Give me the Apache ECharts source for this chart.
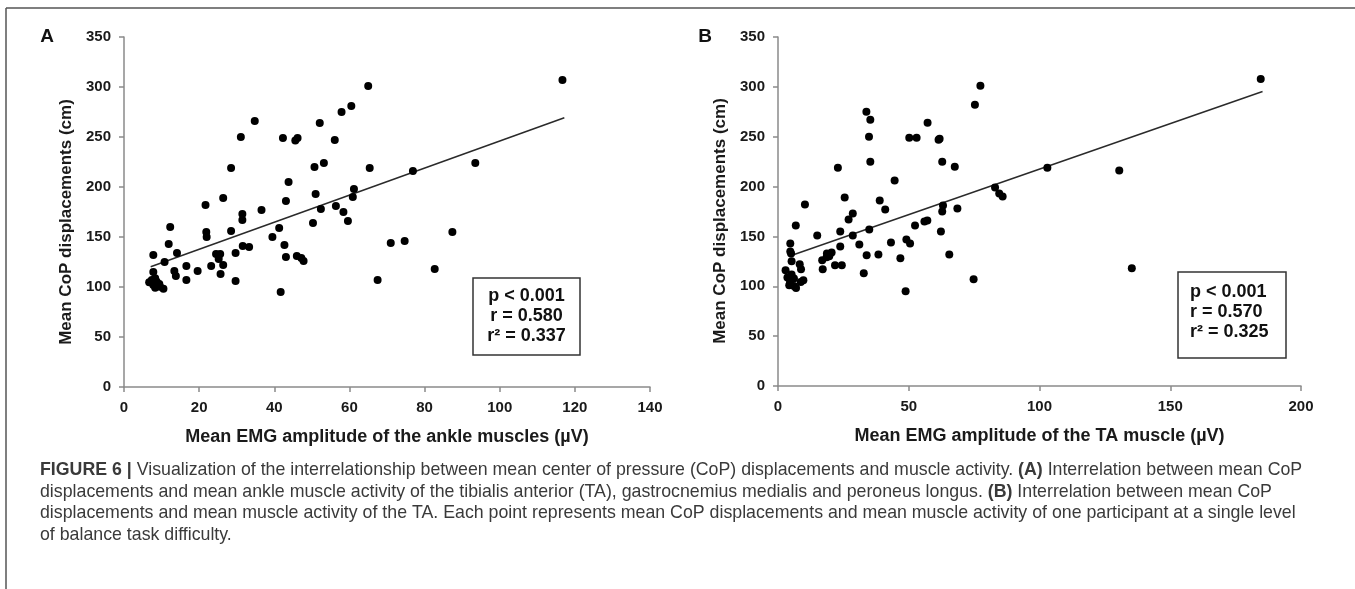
<!DOCTYPE html>
<html>
<head>
<meta charset="utf-8">
<script src="https://cdn.jsdelivr.net/npm/echarts@6/dist/echarts.min.js"></script>
<style>
html,body{margin:0;padding:0;background:#fff;}
#chart{width:1355px;height:589px;}
</style>
</head>
<body>
<div id="chart"></div>
<script>
// ---------- Panel A: mean EMG of ankle muscles vs mean CoP displacement ----------
var emgA = [65.0,60.5,57.9,52.1,34.8,31.1,42.3,45.6,46.2,56.1,28.5,50.7,53.2,65.4,43.8,26.4,21.7,61.2,60.9,51.0,
            43.1,36.6,31.5,31.5,56.4,52.4,58.4,59.6,50.3,12.3,21.9,22.0,28.5,41.3,39.5,11.9,42.7,31.6,33.3,7.8,
            14.1,29.7,24.5,25.6,25.2,26.4,10.8,43.1,46.0,47.2,47.8,16.6,23.2,19.6,13.4,13.8,7.8,25.7,16.6,29.7,
            41.7,6.7,7.4,8.3,8.7,7.8,9.4,8.3,10.5,9.6,116.7,76.9,93.5,71.0,74.7,87.4,82.7,67.5];
var copA = [301,281,275,264,266,250,249,246.5,249,247,219,220,224,219,205,189,182,198,190,193,
            186,177,173,167,181,178,175,166,164,160,155,150,156,159,150,143,142,141,140,132,
            134,134,133,133,128,122,125,130,131,129,126,121,121,116,116,111,115,113,107,106,
            95,104.7,107,108.7,105.3,102,103,99.3,98.3,100.3,307,216,224,144,146,155,118,107];
var trendA = [[7.1,120.3],[117.2,269.3]];
var statsA = ['p < 0.001','r = 0.580','r² = 0.337'];

// ---------- Panel B: mean EMG of TA vs mean CoP displacement ----------
var emgB = [77.4,75.3,33.8,35.3,34.8,57.2,50.2,53.0,61.4,61.8,35.3,62.8,67.6,22.9,44.6,25.5,38.9,41.0,10.3,28.6,
            27.0,63.1,62.8,68.6,83.0,84.6,85.9,56.0,57.1,52.4,34.9,23.8,28.6,15.0,62.3,6.8,4.7,31.1,43.2,49.1,
            50.5,23.8,4.7,5.0,18.7,20.5,19.6,18.6,16.9,33.9,38.4,46.8,65.5,5.2,8.3,8.8,17.1,21.8,24.4,32.8,
            2.9,3.6,5.2,6.1,4.6,6.1,4.3,6.9,8.7,9.7,48.8,74.8,184.6,103.0,130.5,135.3];
var copB = [301,282,275,267,250,264,249,249,247,248,225,225,220,219,206,189,186,177,182,173,
            167,181,175,178,199,193,190,165,166,161,157,155,151,151,155,161,143,142,144,147,
            143,140,135,133,133,134,130,129,126,131,132,128,132,125,122,117,117,121,121,113,
            116,108.7,111.7,107.7,104.3,100.3,101,98.3,104.3,106,95,107,308,219,216,118];
var trendB = [[5.9,131.7],[185.3,295.3]];
var statsB = ['p < 0.001','r = 0.570','r² = 0.325'];

// ---------- Axis ticks / labels ----------
var yMin = 0, yMax = 350, yStep = 50;
var xA = {min:0, max:140, step:20};
var xB = {min:0, max:200, step:50};
var yTitle = 'Mean CoP displacements (cm)';
var xTitleA = 'Mean EMG amplitude of the ankle muscles (µV)';
var xTitleB = 'Mean EMG amplitude of the TA muscle (µV)';
var panelLabels = ['A','B'];
var captionLines = [
  [['b','FIGURE 6 | '],['n','Visualization of the interrelationship between mean center of pressure (CoP) displacements and muscle activity. '],['b','(A)'],['n',' Interrelation between mean CoP']],
  [['n','displacements and mean ankle muscle activity of the tibialis anterior (TA), gastrocnemius medialis and peroneus longus. '],['b','(B)'],['n',' Interrelation between mean CoP']],
  [['n','displacements and mean muscle activity of the TA. Each point represents mean CoP displacements and mean muscle activity of one participant at a single level']],
  [['n','of balance task difficulty.']]
];

function zip(xs, ys){ var out=[]; for(var i=0;i<xs.length;i++) out.push([xs[i],ys[i]]); return out; }

var FONT = '"Liberation Sans", Arial, sans-serif';
var axisColor = '#8a8a8a';
var textColor = '#1a1a1a';

function xAxisCfg(grid, cfg, title){
  return {
    type:'value', gridIndex:grid, min:cfg.min, max:cfg.max, interval:cfg.step,
    name:title, nameLocation:'middle', nameGap:41,
    nameTextStyle:{fontFamily:FONT, fontWeight:'bold', fontSize:18, color:textColor},
    axisLine:{show:true, onZero:false, lineStyle:{color:axisColor, width:1.5}},
    axisTick:{show:true, inside:false, length:5, lineStyle:{color:axisColor, width:1.5}},
    axisLabel:{margin:13, fontFamily:FONT, fontWeight:'bold', fontSize:15, color:textColor},
    splitLine:{show:false}
  };
}
function yAxisCfg(grid){
  return {
    type:'value', gridIndex:grid, min:yMin, max:yMax, interval:yStep,
    axisLine:{show:true, onZero:false, lineStyle:{color:axisColor, width:1.5}},
    axisTick:{show:true, inside:false, length:5, lineStyle:{color:axisColor, width:1.5}},
    axisLabel:{margin:13, fontFamily:FONT, fontWeight:'bold', fontSize:15, color:textColor},
    splitLine:{show:false}
  };
}

var chart = echarts.init(document.getElementById('chart'), null, {renderer:'canvas'});

function statsBox(left, top, w, h, lines, align, y0){
  var children = [{
    type:'rect', shape:{x:0,y:0,width:w,height:h},
    style:{fill:'#fff', stroke:'#333', lineWidth:1.5}
  }];
  for (var i=0;i<lines.length;i++){
    children.push({
      type:'text',
      x: align==='center' ? w/2 : 12,
      y: y0 + i*20,
      style:{text:lines[i], font:'bold 18px '+FONT, fill:'#111',
             textAlign:align, textVerticalAlign:'middle'}
    });
  }
  return {type:'group', x:left, y:top, children:children, z:10};
}

function yTitleText(x, y){
  return {type:'text', x:x, y:y, rotation:Math.PI/2,
    style:{text:yTitle, font:'bold 17px '+FONT, fill:textColor, textAlign:'center', textVerticalAlign:'middle'}};
}

var caption = [];
var CAPFONT = '"Liberation Sans", Arial, sans-serif';
for (var li=0; li<captionLines.length; li++){
  var parts = captionLines[li];
  var txt = parts.map(function(p){ return '{'+p[0]+'|'+p[1]+'}'; }).join('');
  caption.push({
    type:'text', x:40, y:470 + li*21.8,
    style:{
      text:txt, textVerticalAlign:'middle', fill:'#3a3a3a',
      rich:{
        n:{fontFamily:CAPFONT, fontSize:17.75, color:'#3a3a3a'},
        b:{fontFamily:CAPFONT, fontSize:17.75, fontWeight:'bold', color:'#222'}
      }
    }
  });
}

var option = {
  backgroundColor:'#fff',
  animation:false,
  grid:[
    {left:124, right:705, top:37, bottom:202},
    {left:778, right:54, top:37, bottom:203}
  ],
  xAxis:[xAxisCfg(0, xA, xTitleA), xAxisCfg(1, xB, xTitleB)],
  yAxis:[yAxisCfg(0), yAxisCfg(1)],
  series:[
    {type:'scatter', xAxisIndex:0, yAxisIndex:0, data:zip(emgA, copA), symbolSize:8,
     itemStyle:{color:'#000', opacity:1}, z:3},
    {type:'line', xAxisIndex:0, yAxisIndex:0, data:trendA, symbol:'none',
     lineStyle:{color:'#2a2a2a', width:1.5}, z:2},
    {type:'scatter', xAxisIndex:1, yAxisIndex:1, data:zip(emgB, copB), symbolSize:8,
     itemStyle:{color:'#000', opacity:1}, z:3},
    {type:'line', xAxisIndex:1, yAxisIndex:1, data:trendB, symbol:'none',
     lineStyle:{color:'#2a2a2a', width:1.5}, z:2}
  ],
  graphic:[
    {type:'line', shape:{x1:6,y1:8,x2:1355,y2:8}, style:{stroke:'#555', lineWidth:1.5}},
    {type:'line', shape:{x1:6,y1:8,x2:6,y2:589}, style:{stroke:'#555', lineWidth:1.5}},
    {type:'text', x:47, y:37, style:{text:panelLabels[0], font:'bold 19px '+FONT, fill:'#111', textAlign:'center', textVerticalAlign:'middle'}},
    {type:'text', x:705, y:37, style:{text:panelLabels[1], font:'bold 19px '+FONT, fill:'#111', textAlign:'center', textVerticalAlign:'middle'}},
    yTitleText(66, 222),
    yTitleText(720, 221),
    statsBox(473, 278, 107, 77, statsA, 'center', 18),
    statsBox(1178, 272, 108, 86, statsB, 'left', 20)
  ].concat(caption)
};
chart.setOption(option);
</script>
</body>
</html>
